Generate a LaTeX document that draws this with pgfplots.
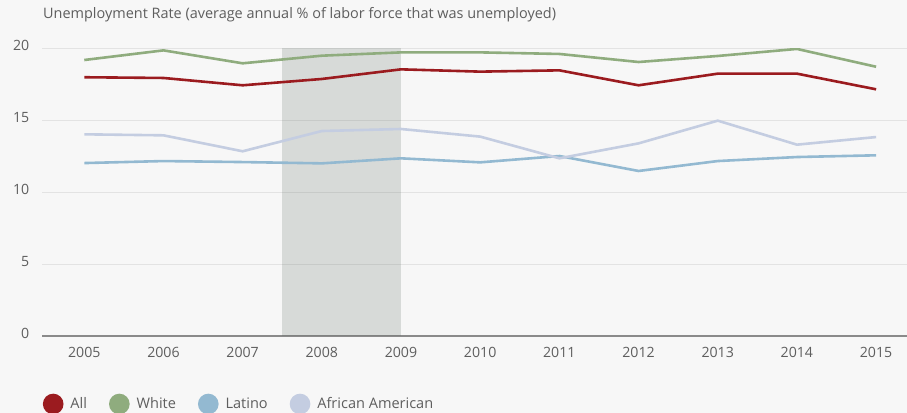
\documentclass[border=0pt]{standalone}
\usepackage{fontspec}
\setmainfont{Open Sans}
\usepackage{pgfplots}
\pgfplotsset{compat=1.18}
\definecolor{bg}{HTML}{F7F7F7}
\definecolor{cAll}{HTML}{9B1B1F}
\definecolor{cWhite}{HTML}{8FAC7E}
\definecolor{cLat}{HTML}{93B9D1}
\definecolor{cAA}{HTML}{C4CDE1}
\definecolor{txt}{HTML}{5E5E5E}
\definecolor{gridc}{HTML}{E3E3E3}
\definecolor{basec}{HTML}{8A8A8A}
\definecolor{shade}{HTML}{5A6660}
\begin{document}
\begin{tikzpicture}
\fill[bg] (-42bp,-77bp) rectangle (865bp,336bp);
\begin{axis}[
  at={(0,0)}, anchor=south west,
  scale only axis, width=865bp, height=287.5bp,
  xmin=2004.466, xmax=2015.39, ymin=0, ymax=20,
  axis x line*=bottom, axis y line*=left,
  x axis line style={basec, line width=1.3bp},
  y axis line style={draw=none},
  xtick={2005,...,2015}, ytick={0,5,10,15,20},
  ymajorgrids, grid style={gridc, line width=0.9bp},
  major tick length=0,
  tick label style={font=\fontsize{14.2}{16}\selectfont, text=txt},
  /pgf/number format/1000 sep={},
  /pgf/number format/assume math mode=true,
  xticklabel style={anchor=north, inner sep=0pt, yshift=-11bp},
  yticklabel style={anchor=east, inner sep=0pt, xshift=-12.5bp, yshift=3bp},
  title={Unemployment Rate (average annual \% of labor force that was unemployed)},
  title style={at={(0,1)}, anchor=base west, yshift=24.2bp, xshift=1bp, inner sep=0pt,
    font=\fontsize{14.5}{16}\selectfont, text=txt},
  legend style={at={(0,0)}, anchor=west, xshift=0.7bp, yshift=-68bp, draw=none, fill=none,
    inner sep=0pt, font=\fontsize{14.6}{16}\selectfont, text=txt, legend columns=-1,
    /tikz/every odd column/.append style={column sep=5bp},
    /tikz/every even column/.append style={column sep=20bp}},
  legend image code/.code={\fill[#1] (9bp,0bp) circle (9bp);},
]
\addplot[draw=none, fill=shade, fill opacity=0.2, forget plot] coordinates {(2007.5,20) (2009,20)} \closedcycle;
\addplot[cAll, line width=2.6bp] coordinates {(2005,18.0) (2006,17.95) (2007,17.44) (2008,17.88) (2009,18.55) (2010,18.39) (2011,18.48) (2012,17.44) (2013,18.25) (2014,18.25) (2015,17.16)};
\addplot[cWhite, line width=2.6bp] coordinates {(2005,19.2) (2006,19.87) (2007,18.97) (2008,19.5) (2009,19.73) (2010,19.73) (2011,19.62) (2012,19.06) (2013,19.48) (2014,19.97) (2015,18.73)};
\addplot[cLat, line width=2.6bp] coordinates {(2005,12.03) (2006,12.17) (2007,12.1) (2008,12.01) (2009,12.36) (2010,12.08) (2011,12.52) (2012,11.48) (2013,12.17) (2014,12.45) (2015,12.57)};
\addplot[cAA, line width=2.6bp] coordinates {(2005,14.03) (2006,13.96) (2007,12.85) (2008,14.26) (2009,14.4) (2010,13.87) (2011,12.36) (2012,13.4) (2013,14.98) (2014,13.31) (2015,13.84)};
\legend{All, White, Latino, African American}
\end{axis}
\pgfresetboundingbox
\path[use as bounding box] (-42bp,-77bp) rectangle (865bp,336bp);
\end{tikzpicture}
\end{document}
